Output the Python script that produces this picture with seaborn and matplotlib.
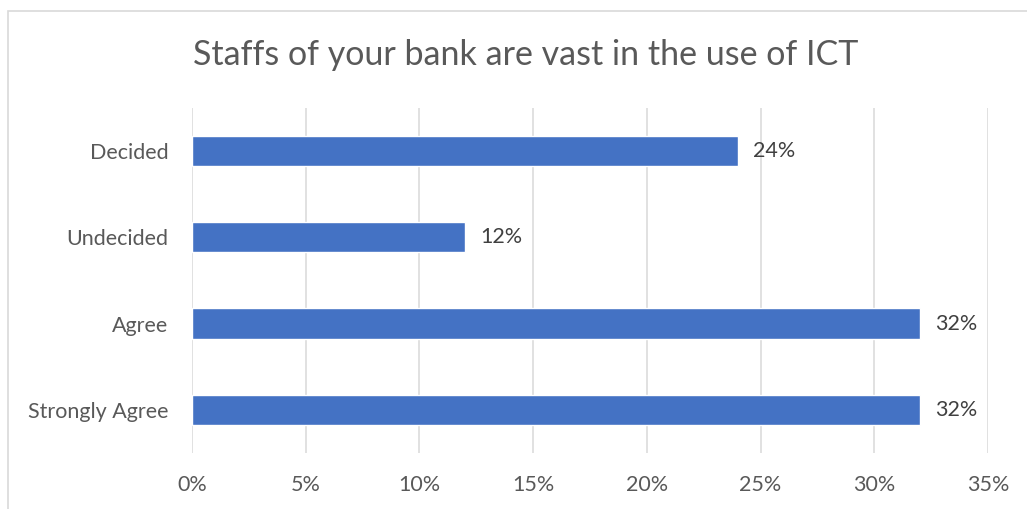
import matplotlib
matplotlib.use("Agg")
import matplotlib.pyplot as plt
import matplotlib.patches as mpatches
import seaborn as sns
import pandas as pd

# Survey responses
categories = ["Decided", "Undecided", "Agree", "Strongly Agree"]
shares = [24, 12, 32, 32]
x_ticks = [0, 5, 10, 15, 20, 25, 30, 35]
x_tick_labels = [f"{t}%" for t in x_ticks]
title = "Staffs of your bank are vast in the use of ICT"

df = pd.DataFrame({"response": categories, "share": shares})

sns.set_theme(style="white")
plt.rcParams["font.family"] = ["Lato", "DejaVu Sans"]

fig = plt.figure(figsize=(10.27, 5.09), dpi=100)
ax = fig.add_axes([0.187, 0.110, 0.775, 0.678])

sns.barplot(data=df, x="share", y="response", order=categories,
            color="#4472C4", saturation=1, width=0.35, ax=ax, zorder=3)

ax.set_xlim(0, 35)
ax.set_ylim(3.5, -0.5)
ax.set_xticks(x_ticks)
ax.set_xticklabels(x_tick_labels)
ax.set_xlabel("")
ax.set_ylabel("")
ax.grid(axis="x", color="#D9D9D9", linewidth=1.1, zorder=0)
ax.grid(axis="y", visible=False)
for s in ax.spines.values():
    s.set_visible(False)
ax.tick_params(axis="x", length=0, pad=16, labelsize=15.5, labelcolor="#595959")
ax.tick_params(axis="y", length=0, pad=17, labelsize=15.5, labelcolor="#595959")

for c in ax.containers:
    ax.bar_label(c, labels=[f"{v:g}%" for v in c.datavalues], padding=11,
                 fontsize=15.5, color="#404040")

fig.text(0.188, 0.892, title, fontsize=24.5, color="#595959", ha="left", va="center")

# Chart frame
fig.patches.append(mpatches.Rectangle((8 / 1027, -0.1), 1.2, 1 - 11 / 509 + 0.1,
                                      transform=fig.transFigure, fill=False,
                                      edgecolor="#D9D9D9", linewidth=1.2))

fig.savefig("out.png", dpi=100)
